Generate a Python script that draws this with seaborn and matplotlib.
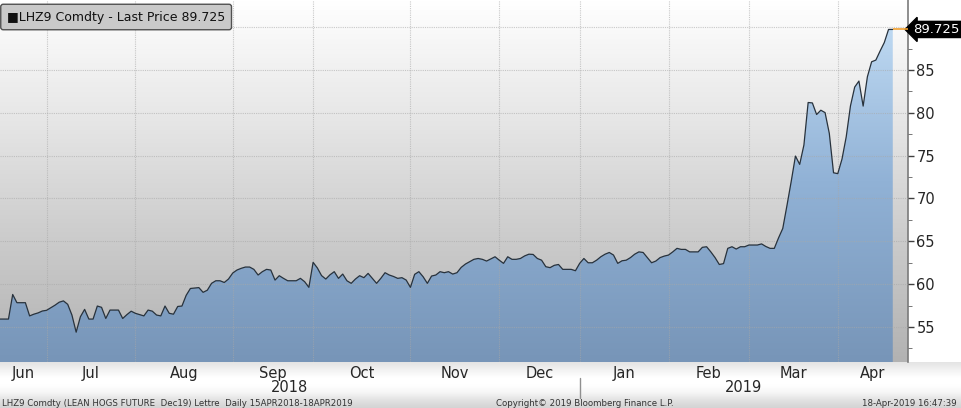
import numpy as np
import pandas as pd
import matplotlib
matplotlib.use("Agg")
import matplotlib.pyplot as plt
import matplotlib.transforms as mtransforms
from matplotlib.colors import LinearSegmentedColormap
import seaborn as sns

# daily settle prices, one list per month
jun18 = [55.93, 55.93, 55.93, 58.8, 57.84, 57.84, 57.84, 56.3, 56.5, 56.65, 56.87]
jul18 = [56.95, 57.25, 57.55, 57.9, 58.05, 57.65, 56.4, 54.4, 56.2, 57.06, 55.93,
         55.93, 57.45, 57.3, 56.0, 56.98, 56.98, 56.98, 56.0, 56.45, 56.85]
aug18 = [56.6, 56.45, 56.3, 56.98, 56.85, 56.4, 56.3, 57.45, 56.6, 56.5, 57.4, 57.45,
         58.7, 59.5, 59.55, 59.6, 59.05, 59.3, 60.1, 60.4, 60.4, 60.2, 60.6]
sep18 = [61.3, 61.65, 61.85, 62.0, 62.0, 61.73, 61.07, 61.46, 61.73, 61.65, 60.48,
         60.99, 60.68, 60.4, 60.4, 60.4, 60.68, 60.29, 59.63]
oct18 = [62.55, 61.9, 61.0, 60.6, 61.1, 61.46, 60.68, 61.18, 60.4, 60.1, 60.6, 60.99,
         60.76, 61.26, 60.68, 60.1, 60.68, 61.34, 61.07, 60.9, 60.68, 60.76, 60.48]
nov18 = [59.63, 61.15, 61.46, 60.87, 60.1, 60.95, 61.07, 61.46, 61.34, 61.46, 61.18,
         61.34, 61.96, 62.35, 62.62, 62.9, 63.0, 62.9, 62.7, 62.95, 63.2]
dec18 = [62.8, 62.43, 63.2, 62.9, 62.9, 63.0, 63.3, 63.5, 63.47, 63.0, 62.8, 62.04,
         61.93, 62.2, 62.3, 61.73, 61.73, 61.73, 61.57]
jan19 = [62.43, 63.0, 62.5, 62.5, 62.8, 63.2, 63.5, 63.7, 63.4, 62.43, 62.73, 62.8,
         63.1, 63.5, 63.77, 63.7, 63.1, 62.5, 62.7, 63.1, 63.28]
feb19 = [63.4, 63.77, 64.18, 64.06, 64.06, 63.77, 63.77, 63.77, 64.3, 64.37, 63.77,
         63.1, 62.3, 62.4, 64.18, 64.37, 64.1, 64.37, 64.37]
mar19 = [64.57, 64.57, 64.57, 64.7, 64.4, 64.18, 64.18, 65.4, 66.5, 69.2, 72.0, 74.95,
         73.98, 76.24, 81.2, 81.15, 79.8, 80.3, 80.02, 77.6, 73.0]
apr19 = [72.9, 74.6, 77.2, 80.8, 83.0, 83.7, 80.78, 84.2, 85.95, 86.15, 87.2, 88.2,
         89.725, 89.725]

holidays = ["2018-07-04", "2018-09-03", "2018-11-22", "2018-12-05", "2018-12-25",
            "2019-01-01", "2019-01-21", "2019-02-18"]
last_price = 89.725
y_ticks = [55, 60, 65, 70, 75, 80, 85, 90]
y_labels = ["55", "60", "65", "70", "75", "80", "85", ""]
legend_text = "\u25a0LHZ9 Comdty - Last Price 89.725"
footer_left = "LHZ9 Comdty (LEAN HOGS FUTURE  Dec19) Lettre  Daily 15APR2018-18APR2019"
footer_mid = "Copyright\u00a9 2019 Bloomberg Finance L.P."
footer_right = "18-Apr-2019 16:47:39"

prices = jun18 + jul18 + aug18 + sep18 + oct18 + nov18 + dec18 + jan19 + feb19 + mar19 + apr19
dates = pd.bdate_range("2018-06-15", "2019-04-18", freq="C", holidays=holidays)
df = pd.DataFrame({"day": np.arange(len(prices)), "price": prices, "date": dates})

W, H = 961, 408
x_max = 214.6
y_min, y_max = 50.92, 93.16

sns.set_style("white")
plt.rcParams["font.family"] = ["DejaVu Sans"]

fig = plt.figure(figsize=(W / 100, H / 100), dpi=100)
fig.patch.set_facecolor("white")

# bottom band + footer backgrounds
band = fig.add_axes([0, 0, 1, 46 / H], zorder=0)
band_cmap = LinearSegmentedColormap.from_list(
    "band", ["#d4d4d4", "#e2e2e2", "#f6f6f6", "#ffffff", "#ffffff", "#f2f2f2", "#e4e4e4"])
band.imshow(np.linspace(0, 1, 100).reshape(-1, 1), cmap=band_cmap, aspect="auto",
            extent=[0, 1, 0, 1], origin="lower")
band.set_xlim(0, 1)
band.set_ylim(0, 1)
band.axis("off")

ax = fig.add_axes([0, 46 / H, 908 / W, 362 / H], zorder=2)

bg_cmap = LinearSegmentedColormap.from_list("bg", ["#b2b2b2", "#cbcbcb", "#e6e6e6", "#ffffff"])
ax.imshow(np.linspace(0, 1, 256).reshape(-1, 1), cmap=bg_cmap, aspect="auto",
          extent=[0, x_max, y_min, y_max], origin="lower", zorder=0)

poly = ax.fill_between(df["day"], df["price"], y_min, color="none", zorder=1)
fill_cmap = LinearSegmentedColormap.from_list("fill", ["#7795b8", "#91b2d6", "#c6e0f7"])
img = ax.imshow(np.linspace(0, 1, 256).reshape(-1, 1), cmap=fill_cmap, aspect="auto",
                extent=[0, x_max, y_min, y_max], origin="lower", zorder=1)
img.set_clip_path(poly.get_paths()[0], transform=ax.transData)

sns.lineplot(data=df, x="day", y="price", ax=ax, color="#28323c", linewidth=0.9, zorder=4)
ax.hlines(last_price, df["day"].iloc[-1], x_max, color="#f0a030", linewidth=1.2, zorder=4)

ax.set_xlim(0, x_max)
ax.set_ylim(y_min, y_max)

# month boundaries and mid-month labels
month = df["date"].dt.to_period("M")
starts = df.index[month != month.shift()].tolist()
bounds = starts + [x_max]
mids = [(bounds[k] + bounds[k + 1]) / 2 for k in range(len(starts))]
names = [df["date"].iloc[s].strftime("%b") for s in starts]
ax.set_xticks(starts[1:])
ax.set_xticklabels([])
ax.set_xticks(mids, names, minor=True)
ax.tick_params(axis="x", which="major", direction="out", length=4, color="#909090")
ax.tick_params(axis="x", which="minor", length=0, labelsize=10.5, pad=3)

ax.yaxis.tick_right()
ax.set_yticks(y_ticks, y_labels)
ax.set_yticks(np.arange(52.5, 92.5, 5), minor=True)
ax.tick_params(axis="y", which="major", direction="out", length=4, width=1, color="#404040",
               labelsize=10.5, pad=2, right=True, left=False)
ax.tick_params(axis="y", which="minor", direction="out", length=3, color="#606060",
               right=True, left=False)
ax.set_xlabel("")
ax.set_ylabel("")

ax.grid(True, which="major", color="#a8a8a8", linestyle=(0, (1, 1)), linewidth=0.8,
        alpha=0.6, zorder=3)
ax.set_axisbelow(False)
for name in ["left", "top", "bottom"]:
    ax.spines[name].set_visible(False)
ax.spines["right"].set_color("#7a7a7a")
ax.spines["right"].set_linewidth(1.2)

# year labels and separator
blend = mtransforms.blended_transform_factory(ax.transData, fig.transFigure)
year_start = df.index[df["date"].dt.year != df["date"].dt.year.shift()].tolist()
year_bounds = year_start + [x_max]
for k, s in enumerate(year_start):
    fig.text((year_bounds[k] + year_bounds[k + 1]) / 2, (H - 387) / H,
             str(df["date"].iloc[s].year), transform=blend, ha="center", va="center",
             fontsize=10.5)
for s in year_start[1:]:
    fig.add_artist(plt.Line2D([s, s], [(H - 398) / H, (H - 378) / H], transform=blend,
                              color="#909090", linewidth=1))

# last price tag
ax.annotate(f"{last_price}", xy=(1.0, last_price), xycoords=("axes fraction", "data"),
            xytext=(4, 0), textcoords="offset points", ha="left", va="center",
            color="white", fontsize=9.5, annotation_clip=False,
            bbox=dict(boxstyle="larrow,pad=0.12", fc="black", ec="black"))

# legend box
fig.text(7 / W, 1 - 17 / H, legend_text, ha="left", va="center", fontsize=9, color="#111111",
         bbox=dict(boxstyle="round,pad=0.5,rounding_size=0.2", fc="#c9c9c9", ec="#505050",
                   linewidth=1))

# footer
fig.text(2 / W, 4 / H, footer_left, fontsize=6.2, color="#333333", ha="left", va="center")
fig.text(585 / W, 4 / H, footer_mid, fontsize=6.2, color="#333333", ha="center", va="center")
fig.text(957 / W, 4 / H, footer_right, fontsize=6.2, color="#333333", ha="right", va="center")

fig.savefig("out.png", dpi=100)
